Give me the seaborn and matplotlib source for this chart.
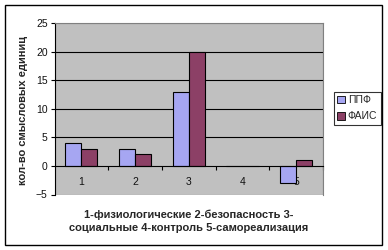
import matplotlib
matplotlib.use("Agg")
import matplotlib.pyplot as plt
import seaborn as sns
import pandas as pd
from matplotlib.patches import Rectangle

categories = ["1", "2", "3", "4", "5"]
ppf = [4, 3, 13, 0, -3]
fais = [3, 2, 20, 0, 1]
series_names = ["ППФ", "ФАИС"]
colors = ["#9999FF", "#993366"]

df = pd.DataFrame({
    "cat": categories * 2,
    "val": ppf + fais,
    "series": [series_names[0]] * 5 + [series_names[1]] * 5,
})

sns.set_theme(style="white")
plt.rcParams["font.family"] = ["Liberation Sans", "DejaVu Sans"]

fig = plt.figure(figsize=(3.88, 2.5), dpi=100)
ax = fig.add_axes([0.1405, 0.222, 0.692, 0.686])
ax.set_facecolor("#C0C0C0")

sns.barplot(data=df, x="cat", y="val", hue="series", palette=colors,
            width=0.6, edgecolor="black", linewidth=0.8, ax=ax,
            legend=True, zorder=3)

ax.set_ylim(-5, 25)
ax.set_xlim(-0.5, 4.5)
ax.set_yticks([-5, 0, 5, 10, 15, 20, 25])
ax.tick_params(axis="y", labelsize=7.5, length=3, width=0.8, color="black",
               direction="out", left=True, pad=2, labelcolor="#111111")
for y in [5, 10, 15, 20]:
    ax.axhline(y, color="black", linewidth=0.8, zorder=1)

# x axis at zero
ax.spines["bottom"].set_position(("data", 0))
ax.spines["bottom"].set_color("black")
ax.spines["bottom"].set_linewidth(0.8)
ax.spines["bottom"].set_zorder(4)
ax.spines["left"].set_color("black")
ax.spines["left"].set_linewidth(0.8)
for s in ["top", "right"]:
    ax.spines[s].set_color("#808080")
    ax.spines[s].set_linewidth(0.8)
ax.set_xticks(range(5))
ax.set_xticklabels(categories)
ax.tick_params(axis="x", length=0, labelsize=7.5, pad=8, labelcolor="#111111")
for lbl in ax.get_xticklabels():
    lbl.set_zorder(5)
ax.set_xticks([0.5, 1.5, 2.5, 3.5, 4.5], minor=True)
ax.tick_params(axis="x", which="minor", length=3, width=0.8, color="black",
               direction="out", bottom=True)
# bottom gray border of plot area
ax.add_patch(Rectangle((0, 0), 1, 1, transform=ax.transAxes, fill=False,
                       edgecolor="#808080", linewidth=0.8, zorder=0.5))

ax.set_xlabel("1-физиологические 2-безопасность 3-\nсоциальные 4-контроль 5-самореализация",
              fontsize=8, fontweight="bold", linespacing=1.45)
ax.xaxis.set_label_coords(0.5, -0.085)
ax.xaxis.label.set_verticalalignment("top")
ax.set_ylabel("кол-во смысловых единиц", fontsize=8, fontweight="bold")
ax.yaxis.set_label_coords(-0.098, 0.49)

leg = ax.legend(loc="upper left", bbox_to_anchor=(1.04, 0.6), frameon=True,
                fontsize=7.5, handlelength=0.75, handleheight=0.75,
                handletextpad=0.25, borderpad=0.35, labelspacing=0.6,
                fancybox=False, edgecolor="black", borderaxespad=0)
leg.get_frame().set_linewidth(0.8)
for h in leg.legend_handles:
    h.set_edgecolor("black")
    h.set_linewidth(0.6)

fig.patches.append(Rectangle((5 / 388, 1 - 244.5 / 250), 377 / 388, 239.5 / 250,
                             transform=fig.transFigure, fill=False,
                             edgecolor="black", linewidth=1.0))

fig.savefig("out.png", dpi=100)
